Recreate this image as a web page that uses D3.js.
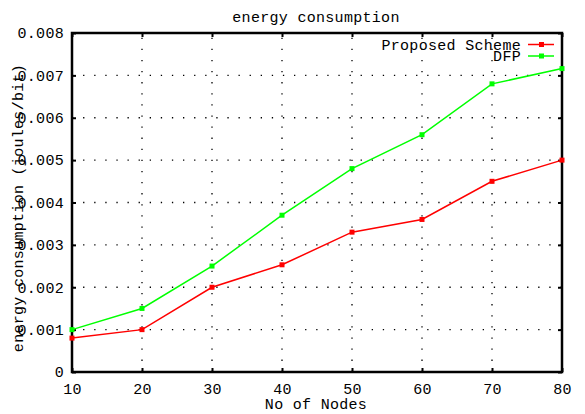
<!DOCTYPE html>
<html><head><meta charset="utf-8">
<script src="https://cdn.jsdelivr.net/npm/d3@7"></script>
<style>
body{margin:0;background:#fff;}
text{font-family:"Liberation Mono","DejaVu Sans Mono",monospace;font-size:15px;fill:#000;letter-spacing:0.3px;}
</style></head><body>
<svg id="c" width="585" height="414"></svg>
<script>
const nodes = [10,20,30,40,50,60,70,80];
const proposed = [0.0008,0.001,0.002,0.00253,0.0033,0.0036,0.0045,0.005];
const dfp = [0.001,0.0015,0.0025,0.0037,0.0048,0.0056,0.0068,0.00716];
const yTicks = [0,0.001,0.002,0.003,0.004,0.005,0.006,0.007,0.008];
const yTickLabels = ["0","0.001","0.002","0.003","0.004","0.005","0.006","0.007","0.008"];
const seriesNames = ["Proposed Scheme","DFP"];
const colors = ["#ff0000","#00ff00"];

const svg = d3.select("#c");
const m = {l:72,r:562,t:33,b:372};
const x = d3.scaleLinear().domain([10,80]).range([m.l,m.r]);
const y = d3.scaleLinear().domain([0,0.008]).range([m.b,m.t]);

// grid
const g = svg.append("g");
g.selectAll(".gx").data(nodes.slice(1,-1)).join("line")
 .attr("x1",d=>x(d)).attr("x2",d=>x(d)).attr("y1",m.b).attr("y2",m.t)
 .attr("stroke","#000").attr("stroke-width",1.3).attr("stroke-dasharray","1.3,9.8");
g.selectAll(".gy").data(yTicks.slice(1,-1)).join("line")
 .attr("y1",d=>y(d)).attr("y2",d=>y(d)).attr("x1",m.l).attr("x2",m.r)
 .attr("stroke","#000").attr("stroke-width",1.3).attr("stroke-dasharray","1.3,9.8");

// axes with inward ticks
const xa = d3.axisBottom(x).tickValues(nodes).tickSize(-4).tickPadding(11).tickFormat(d3.format("d"));
const xg = svg.append("g").attr("transform",`translate(0,${m.b})`).call(xa);
const xt = svg.append("g").attr("transform",`translate(0,${m.t})`).call(d3.axisTop(x).tickValues(nodes).tickSize(-4).tickFormat(""));
const ya = d3.axisLeft(y).tickValues(yTicks).tickSize(-4).tickPadding(8).tickFormat((d,i)=>yTickLabels[i]);
const yg = svg.append("g").attr("transform",`translate(${m.l},0)`).call(ya);
const yr = svg.append("g").attr("transform",`translate(${m.r},0)`).call(d3.axisRight(y).tickValues(yTicks).tickSize(-4).tickFormat(""));
[xg,xt,yg,yr].forEach(a=>{
  a.select(".domain").remove();
  a.selectAll(".tick line").attr("stroke","#000").attr("stroke-width",2);
  a.selectAll("text").attr("fill","#000").style("font-size","15px").style("font-family",'"Liberation Mono",monospace');
});
svg.append("rect").attr("x",m.l).attr("y",m.t).attr("width",m.r-m.l).attr("height",m.b-m.t)
 .attr("fill","none").attr("stroke","#000").attr("stroke-width",2.5);

// series
const line = d3.line().x((d,i)=>x(nodes[i])).y(d=>y(d));
[proposed,dfp].forEach((s,k)=>{
  svg.append("path").datum(s).attr("d",line).attr("fill","none").attr("stroke",colors[k]).attr("stroke-width",1.5);
  svg.selectAll(null).data(s).join("rect")
   .attr("x",(d,i)=>x(nodes[i])-2.5).attr("y",d=>y(d)-2.5).attr("width",5).attr("height",5).attr("fill",colors[k]);
});

// legend
seriesNames.forEach((n,k)=>{
  const ly = 44.5 + k*11.5;
  svg.append("text").attr("x",521).attr("y",ly+5).attr("text-anchor","end").text(n);
  svg.append("line").attr("x1",528).attr("x2",554).attr("y1",ly).attr("y2",ly).attr("stroke",colors[k]).attr("stroke-width",1.5);
  svg.append("rect").attr("x",539).attr("y",ly-2.5).attr("width",5).attr("height",5).attr("fill",colors[k]);
});

// titles
svg.append("text").attr("x",316).attr("y",22).attr("text-anchor","middle").text("energy consumption");
svg.append("text").attr("x",316).attr("y",409).attr("text-anchor","middle").text("No of Nodes");
svg.append("text").attr("transform","translate(23,208) rotate(-90)").attr("text-anchor","middle").text("energy consumption (joules/bit)");
</script></body></html>
